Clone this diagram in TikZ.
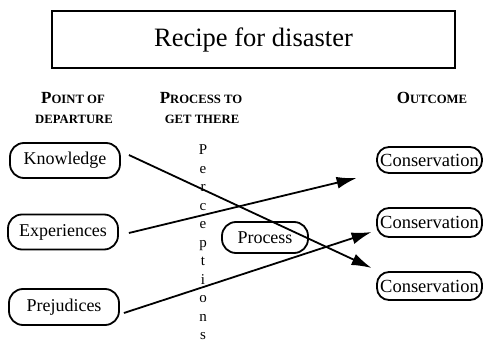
\documentclass[tikz,border=0pt]{standalone}
\usepackage{fontspec}
\setmainfont{Liberation Serif}
\usetikzlibrary{arrows.meta,calc}
\newcommand{\fsc}[2]{{\fontsize{17}{18}\selectfont #1}{\fontsize{12.7}{14}\selectfont #2}}
\begin{document}
\begin{tikzpicture}[x=1pt,y=-1pt,
  pill/.style={draw,line width=1.8pt,rounded corners=14pt,inner sep=0pt,font=\fontsize{18}{20}\selectfont},
  cons/.style={pill,rounded corners=12pt,minimum width=105pt,font=\fontsize{18.5}{20}\selectfont},
  hdr/.style={font=\bfseries,anchor=base,inner sep=0pt},
  letter/.style={font=\fontsize{15}{16}\selectfont,anchor=base,inner sep=0pt},
  arr/.style={line width=1.8pt,-{Latex[length=20pt,width=12pt]}}]
\useasboundingbox (0,0) rectangle (483,342);
\node[draw,line width=1.5pt,minimum width=403pt,minimum height=57pt,inner sep=0pt,font=\fontsize{26.5}{28}\selectfont] (title) at (253.5,39.5) {Recipe for disaster};
% headers
\node[hdr] (h1) at (73,104) {\fsc{P}{OINT OF}};
\node[hdr] (h1b) at (74,124) {\fsc{}{DEPARTURE}};
\node[hdr] (h2) at (201,104) {\fsc{P}{ROCESS TO}};
\node[hdr] (h2b) at (202,124) {\fsc{}{GET THERE}};
\node[hdr] (h3) at (432,104) {\fsc{O}{UTCOME}};
% left nodes
\node[pill,minimum width=110pt,minimum height=35pt] (know) at (65,160.5) {Knowledge};
\node[pill,minimum width=110pt,minimum height=35pt] (exp) at (63,232) {Experiences};
\node[pill,minimum width=110pt,minimum height=36pt] (prej) at (64,307) {Prejudices};
% process
\node[pill,minimum width=86pt,minimum height=31pt] (proc) at (265,237.5) {Process};
% perceptions
\foreach \ch [count=\i] in {P,e,r,c,e,p,t,i,o,n,s}
  \node[letter] (l\i) at (203,{155+18.5*(\i-1)}) {\ch};
% outcomes
\node[cons,minimum height=26pt] (c1) at (429.5,160) {Conservation};
\node[cons,minimum height=29pt] (c2) at (429.5,222.5) {Conservation};
\node[cons,minimum height=28pt] (c3) at (429.5,286) {Conservation};
% arrows
\coordinate (a1s) at ($(know.east)+(8,-5.5)$);
\coordinate (a1e) at ($(c3.west)+(-4.5,-18)$);
\coordinate (a2s) at ($(exp.east)+(10,1)$);
\coordinate (a2e) at ($(c1.west)+(-19.5,18)$);
\coordinate (a3s) at ($(prej.east)+(4,6)$);
\coordinate (a3e) at ($(c2.west)+(-4.5,9.5)$);
\draw[arr] (a1s) -- (a1e);
\draw[arr] (a2s) -- (a2e);
\draw[arr] (a3s) -- (a3e);
\end{tikzpicture}
\end{document}
